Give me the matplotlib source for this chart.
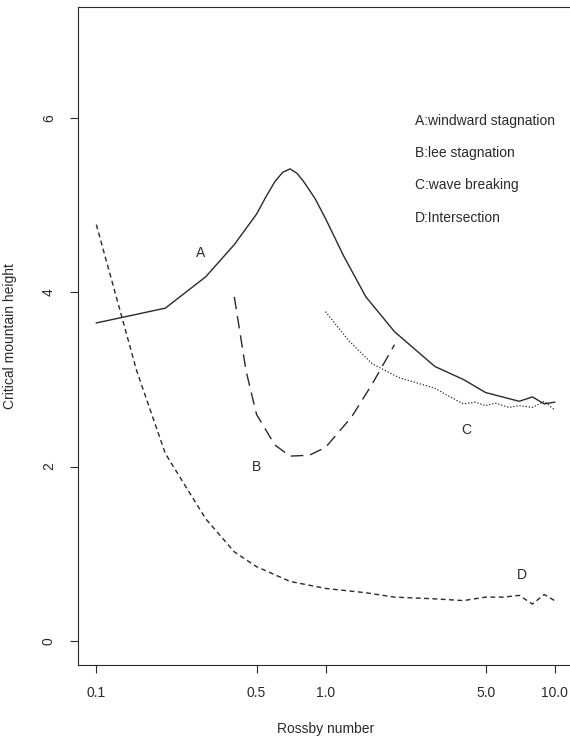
import matplotlib
matplotlib.use("Agg")
import matplotlib.pyplot as plt
import numpy as np

plt.rcParams['font.family'] = ['Liberation Sans', 'DejaVu Sans']

# Critical mountain height vs Rossby number
ro_a = [0.1, 0.2, 0.3, 0.4, 0.5, 0.55, 0.6, 0.65, 0.7, 0.75, 0.8, 0.9, 1.0, 1.2, 1.5, 2.0, 3.0, 4.0, 5.0, 7.0, 8.0, 9.0, 10.0]
h_a = [3.65, 3.82, 4.18, 4.55, 4.90, 5.10, 5.27, 5.38, 5.42, 5.37, 5.28, 5.08, 4.85, 4.42, 3.95, 3.55, 3.15, 3.00, 2.85, 2.75, 2.80, 2.72, 2.74]

ro_b = [0.4, 0.45, 0.5, 0.6, 0.7, 0.85, 1.0, 1.3, 1.6, 2.0]
h_b = [3.95, 3.10, 2.60, 2.25, 2.12, 2.13, 2.22, 2.57, 2.95, 3.40]

ro_c = [1.0, 1.26, 1.6, 2.1, 3.0, 3.5, 4.0, 4.5, 5.0, 5.5, 6.3, 7.0, 8.0, 9.0, 10.0]
h_c = [3.78, 3.45, 3.18, 3.02, 2.90, 2.80, 2.72, 2.74, 2.70, 2.73, 2.68, 2.70, 2.68, 2.75, 2.65]

ro_d = [0.1, 0.15, 0.2, 0.3, 0.4, 0.5, 0.7, 1.0, 1.5, 2.0, 3.0, 4.0, 5.0, 6.0, 7.0, 8.0, 9.0, 10.0]
h_d = [4.78, 3.10, 2.15, 1.40, 1.02, 0.85, 0.68, 0.60, 0.55, 0.50, 0.48, 0.46, 0.50, 0.50, 0.52, 0.42, 0.53, 0.46]

x_ticks = [0.1, 0.5, 1.0, 5.0, 10.0]
x_tick_labels = ["0.1", "0.5", "1.0", "5.0", "10.0"]
y_ticks = [0, 2, 4, 6]

legend_lines = ["A:windward stagnation", "B:lee stagnation", "C:wave breaking", "D:Intersection"]

ink = "#2a2a2a"

fig = plt.figure(figsize=(5.70, 7.39), dpi=100)
ax = fig.add_axes([78 / 570, 74 / 739, 495 / 570, 658 / 739])

ax.plot(ro_a, h_a, color=ink, lw=1.0, ls='-')
ax.plot(ro_b, h_b, color=ink, lw=1.0, ls=(0, (9, 5)))
ax.plot(ro_c, h_c, color=ink, lw=0.9, ls=(0, (1, 1.5)))
ax.plot(ro_d, h_d, color=ink, lw=1.0, ls=(0, (3.5, 2.5)))

ax.set_xscale('log')
lx = np.log10([0.1, 10.0])
pad = 0.04 * (lx[1] - lx[0])
ax.set_xlim(10 ** (lx[0] - pad), 10 ** (lx[1] + pad))
ax.set_ylim(-0.28, 7.28)

ax.set_xticks(x_ticks)
ax.set_xticklabels(x_tick_labels)
ax.xaxis.set_minor_locator(matplotlib.ticker.NullLocator())
ax.set_yticks(y_ticks)
ax.set_yticklabels([str(v) for v in y_ticks], rotation=90, va='center')

ax.tick_params(axis='both', direction='out', length=6, width=0.8, colors=ink,
               labelsize=10, labelcolor=ink)
ax.tick_params(axis='x', pad=9)
ax.tick_params(axis='y', pad=10)

for side in ['left', 'bottom', 'top']:
    ax.spines[side].set_color(ink)
    ax.spines[side].set_linewidth(0.8)
ax.spines['right'].set_visible(False)

ax.set_xlabel("Rossby number", fontsize=10, color=ink, labelpad=16)
ax.set_ylabel("Critical mountain height", fontsize=10, color=ink, labelpad=18)

# curve tags
ax.text(0.285, 4.45, "A", fontsize=10, color=ink, ha='center', va='center')
ax.text(0.5, 2.0, "B", fontsize=10, color=ink, ha='center', va='center')
ax.text(4.1, 2.42, "C", fontsize=10, color=ink, ha='center', va='center')
ax.text(7.2, 0.75, "D", fontsize=10, color=ink, ha='center', va='center')

for i, s in enumerate(legend_lines):
    ax.text(2.45, 5.97 - 0.37 * i, s, fontsize=10, color=ink, ha='left', va='center')

fig.savefig("out.png", dpi=100)
